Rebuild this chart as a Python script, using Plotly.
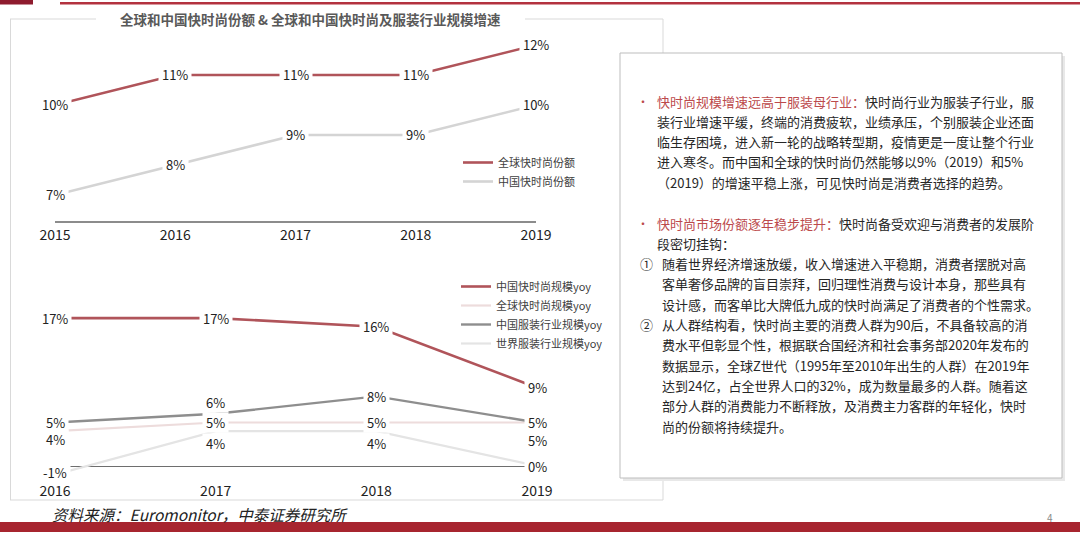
import plotly.graph_objects as go

W, H = 1080, 538

# ---------------- data ----------------
share_years = [2015, 2016, 2017, 2018, 2019]
global_ff_share = [10, 11, 11, 11, 12]
china_ff_share = [7, 8, 9, 9, 10]
share_names = ["全球快时尚份额", "中国快时尚份额"]

yoy_years = [2016, 2017, 2018, 2019]
china_ff_yoy = [17, 17, 16, 9]
global_ff_yoy = [4, 5, 5, 5]
china_apparel_yoy = [5, 6, 8, 5]
world_apparel_yoy = [-1, 4, 4, 0]
yoy_names = ["中国快时尚规模yoy", "全球快时尚规模yoy", "中国服装行业规模yoy", "世界服装行业规模yoy"]

title_text = "全球和中国快时尚份额 & 全球和中国快时尚及服装行业规模增速"
source_text = "资料来源：Euromonitor，中泰证券研究所"
page_no = "4"

para1_head = "快时尚规模增速远高于服装母行业："
para1_lines = [
    "快时尚行业为服装子行业，服",
    "装行业增速平缓，终端的消费疲软，业绩承压，个别服装企业还面",
    "临生存困境，进入新一轮的战略转型期，疫情更是一度让整个行业",
    "进入寒冬。而中国和全球的快时尚仍然能够以9%（2019）和5%",
    "（2019）的增速平稳上涨，可见快时尚是消费者选择的趋势。",
]
para2_head = "快时尚市场份额逐年稳步提升："
para2_lines = [
    "快时尚备受欢迎与消费者的发展阶",
    "段密切挂钩：",
]
item1_lines = [
    "随着世界经济增速放缓，收入增速进入平稳期，消费者摆脱对高",
    "客单奢侈品牌的盲目崇拜，回归理性消费与设计本身，那些具有",
    "设计感，而客单比大牌低九成的快时尚满足了消费者的个性需求。",
]
item2_lines = [
    "从人群结构看，快时尚主要的消费人群为90后，不具备较高的消",
    "费水平但彰显个性，根据联合国经济和社会事务部2020年发布的",
    "数据显示，全球Z世代（1995年至2010年出生的人群）在2019年",
    "达到24亿，占全世界人口的32%，成为数量最多的人群。随着这",
    "部分人群的消费能力不断释放，及消费主力客群的年轻化，快时",
    "尚的份额将持续提升。",
]

# ---------------- style ----------------
FONT = "Noto Sans CJK SC"
RED = "#B0545A"
HEAD_RED = "#BC4A4C"
TXT = "#262626"
share_colors = [RED, "#D4D4D4"]
yoy_colors = [RED, "#EDDCDC", "#8E8E8E", "#E4E4E4"]
share_widths = [2.6, 2.6]
yoy_widths = [2.6, 2.2, 2.4, 2.2]
# label vertical shifts in px (positive = up)
share_label_shift = [[0] * 5, [0] * 5]
yoy_label_shift = [
    [0, 0, 0, 0],
    [-8, 0, 0, -18],
    [0, 11, 0, 0],
    [2, -12, -12, 0],
]


def px(x):
    return x / W


def py(y):
    return 1 - y / H


NB = "\u00a0"

fig = go.Figure()
annotations = []

share_series = [global_ff_share, china_ff_share]
for name, vals, col, wd, shifts in zip(share_names, share_series, share_colors, share_widths, share_label_shift):
    fig.add_trace(go.Scatter(
        x=share_years, y=vals, name=name, mode="lines",
        line=dict(color=col, width=wd), xaxis="x", yaxis="y",
        legend="legend", cliponaxis=False, hoverinfo="skip",
    ))
    for xv, yv, s in zip(share_years, vals, shifts):
        annotations.append(dict(
            x=xv, y=yv, xref="x", yref="y", text=f"{NB}{yv}%{NB}", showarrow=False,
            font=dict(family=FONT, size=13, color="#222222"), bgcolor="white",
            borderpad=0, yshift=s,
        ))

yoy_series = [china_ff_yoy, global_ff_yoy, china_apparel_yoy, world_apparel_yoy]
for name, vals, col, wd, shifts in zip(yoy_names, yoy_series, yoy_colors, yoy_widths, yoy_label_shift):
    fig.add_trace(go.Scatter(
        x=yoy_years, y=vals, name=name, mode="lines",
        line=dict(color=col, width=wd), xaxis="x2", yaxis="y2",
        legend="legend2", cliponaxis=False, hoverinfo="skip",
    ))
    for xv, yv, s in zip(yoy_years, vals, shifts):
        annotations.append(dict(
            x=xv, y=yv, xref="x2", yref="y2", text=f"{NB}{yv}%{NB}", showarrow=False,
            font=dict(family=FONT, size=13, color="#222222"), bgcolor="white",
            borderpad=0, yshift=s,
        ))

# chart title on the panel border
annotations.append(dict(
    x=px(310), y=py(19), xref="paper", yref="paper", text=f"<b>{title_text}</b>",
    showarrow=False, font=dict(family=FONT, size=13.5, color="#595959"),
    xanchor="center", yanchor="middle",
))

# text box content
LH = 20.3
body_font = dict(family=FONT, size=13, color=TXT)


def add_line(xp, yp, text):
    annotations.append(dict(
        x=px(xp), y=py(yp), xref="paper", yref="paper", text=text, showarrow=False,
        font=body_font, xanchor="left", yanchor="middle", align="left",
    ))


y0 = 101
annotations.append(dict(x=px(643), y=py(y0), xref="paper", yref="paper", text="•",
                        showarrow=False, font=dict(family=FONT, size=12, color=HEAD_RED),
                        xanchor="center", yanchor="middle"))
for i, ln in enumerate(para1_lines):
    t = (f"<span style='color:{HEAD_RED}'>{para1_head}</span>" + ln) if i == 0 else ln
    add_line(655, y0 + i * LH, t)

y1 = 223
annotations.append(dict(x=px(643), y=py(y1), xref="paper", yref="paper", text="•",
                        showarrow=False, font=dict(family=FONT, size=12, color=HEAD_RED),
                        xanchor="center", yanchor="middle"))
for i, ln in enumerate(para2_lines):
    t = (f"<span style='color:{HEAD_RED}'>{para2_head}</span>" + ln) if i == 0 else ln
    add_line(655, y1 + i * LH, t)

y2 = y1 + 2 * LH
add_line(638, y2, "①")
for i, ln in enumerate(item1_lines):
    add_line(660, y2 + i * LH, ln)

y3 = y2 + 3 * LH
add_line(638, y3, "②")
for i, ln in enumerate(item2_lines):
    add_line(660, y3 + i * LH, ln)

# source and page number
annotations.append(dict(
    x=px(50), y=py(514), xref="paper", yref="paper", text=f"<i>{source_text}</i>",
    showarrow=False, font=dict(family=FONT, size=15.5, color="#222222"),
    xanchor="left", yanchor="middle",
))
annotations.append(dict(
    x=px(1050), y=py(517), xref="paper", yref="paper", text=page_no,
    showarrow=False, font=dict(family=FONT, size=10, color="#8A8A8A"),
    xanchor="center", yanchor="middle",
))

# ---------------- decorations ----------------
shapes = []


def rect(x0, y0, x1, y1, fill, line_color=None, lw=0):
    shapes.append(dict(
        type="rect", xref="paper", yref="paper",
        x0=px(x0), x1=px(x1), y0=py(y1), y1=py(y0),
        fillcolor=fill, line=dict(color=line_color or fill, width=lw),
        layer="above",
    ))


def hline(x0, x1, y, color, lw=1):
    shapes.append(dict(type="line", xref="paper", yref="paper",
                       x0=px(x0), x1=px(x1), y0=py(y), y1=py(y),
                       line=dict(color=color, width=lw), layer="above"))


def vline(x, y0, y1, color, lw=1):
    shapes.append(dict(type="line", xref="paper", yref="paper",
                       x0=px(x), x1=px(x), y0=py(y0), y1=py(y1),
                       line=dict(color=color, width=lw), layer="above"))


# top bar
rect(0, 0, 33, 4.5, "#8E1B2E")
rect(60, 2, 1080, 4.5, "#B3323F")
# bottom band
rect(0, 522, 1080, 532, "#A7252F")

# left panel frame
PANEL = "#D9D9D9"
vline(10.5, 19, 500, PANEL)
hline(10, 663, 500, PANEL)
vline(663, 19, 500, PANEL)
hline(10, 96, 19, PANEL)
hline(525, 663, 19, PANEL)

# text box with soft shadow
rect(623, 56, 1065, 481, "#E8E8E8")
rect(620, 53, 1062, 478, "white", "#BDBDBD", 1)

# ---------------- layout ----------------
share_bottom_px, share_top_px = 221, 30
share_px_per = 30.0
share_ref_val, share_ref_px = 11, 75
yoy_bottom_px, yoy_top_px = 481, 270
yoy_px_per = 8.7
yoy_zero_px = 466

fig.update_layout(
    width=W, height=H, autosize=False,
    margin=dict(l=0, r=0, t=0, b=0, pad=0, autoexpand=False),
    paper_bgcolor="white", plot_bgcolor="white",
    font=dict(family=FONT, color="#222222"),
    showlegend=True,
    xaxis=dict(
        domain=[px(55), px(536)], range=[share_years[0], share_years[-1]],
        tickvals=share_years, ticktext=[str(v) for v in share_years],
        showgrid=False, zeroline=False, showline=True, linecolor="#8C8C8C", linewidth=2,
        ticks="", tickfont=dict(family=FONT, size=14, color="#222222"), anchor="y",
        fixedrange=True, automargin=False,
    ),
    yaxis=dict(
        domain=[py(share_bottom_px), py(share_top_px)],
        range=[share_ref_val - (share_bottom_px - share_ref_px) / share_px_per,
               share_ref_val + (share_ref_px - share_top_px) / share_px_per],
        visible=False, anchor="x", fixedrange=True, automargin=False,
    ),
    xaxis2=dict(
        domain=[px(55), px(537)], range=[yoy_years[0], yoy_years[-1]],
        tickvals=yoy_years, ticktext=[str(v) for v in yoy_years],
        showgrid=False, zeroline=False, showline=False,
        ticks="", tickfont=dict(family=FONT, size=14, color="#222222"), anchor="y2",
        fixedrange=True, automargin=False,
    ),
    yaxis2=dict(
        domain=[py(yoy_bottom_px), py(yoy_top_px)],
        range=[-(yoy_bottom_px - yoy_zero_px) / yoy_px_per, (yoy_zero_px - yoy_top_px) / yoy_px_per],
        showgrid=False, showticklabels=False, ticks="", showline=False,
        zeroline=True, zerolinecolor="#6E6E6E", zerolinewidth=1.4, anchor="x2",
        fixedrange=True, automargin=False,
    ),
    legend=dict(
        x=px(458), y=py(148), xanchor="left", yanchor="top",
        bgcolor="rgba(0,0,0,0)", font=dict(family=FONT, size=11, color="#404040"),
        itemwidth=30, tracegroupgap=0,
    ),
    legend2=dict(
        x=px(456), y=py(272), xanchor="left", yanchor="top",
        bgcolor="rgba(0,0,0,0)", font=dict(family=FONT, size=11, color="#404040"),
        itemwidth=30, tracegroupgap=0,
    ),
    annotations=annotations,
    shapes=shapes,
)

fig.write_html(
    "out.html", config={"displayModeBar": False},
    post_script="document.body.style.margin='0px';document.documentElement.style.overflow='hidden';",
)
